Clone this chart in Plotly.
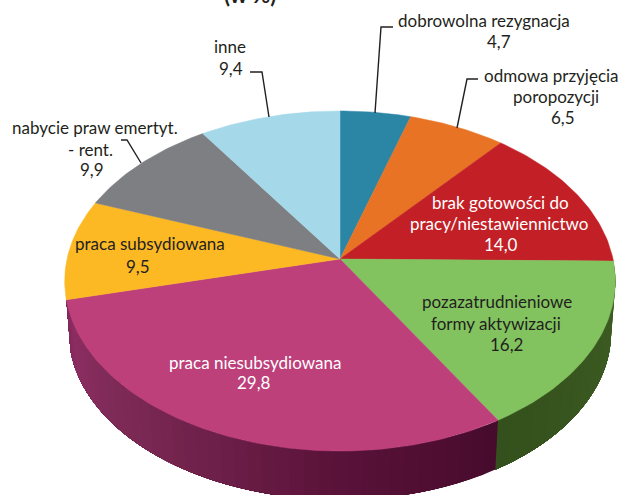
import math
import plotly.graph_objects as go

categories = ["dobrowolna rezygnacja", "odmowa przyjęcia poropozycji",
              "brak gotowości do pracy/niestawiennictwo",
              "pozazatrudnieniowe formy aktywizacji", "praca niesubsydiowana",
              "praca subsydiowana", "nabycie praw emertyt. - rent.", "inne"]
values = [4.7, 6.5, 14.0, 16.2, 29.8, 9.5, 9.9, 9.4]
colors = ["#2b86a6", "#e97325", "#c21f26", "#82c35f", "#bd407a", "#fdb924", "#7e7f83", "#a5d9ea"]

CX, CY, RX, RY, K, DEPTH, BASE_R = 340.0, 259.0, 273.0, 167.2, 0.1294, 52.0, 0.985
FONT = "Lato"
FS = 17
DARK = "#231f20"


def project(theta, r=1.0, dy=0.0):
    X = r * math.sin(theta)
    Y = -r * math.cos(theta)
    w = 1 - K * Y
    return CX + RX * X / w, CY + RY * Y / w + dy


def hexrgb(h):
    return [int(h[i:i + 2], 16) for i in (1, 3, 5)]


def ramp(stops, t):
    for (a, ca), (b, cb) in zip(stops, stops[1:]):
        if t <= b:
            f = (t - a) / (b - a)
            ra, rb = hexrgb(ca), hexrgb(cb)
            return "rgb(%d,%d,%d)" % tuple(round(p + (q - p) * f) for p, q in zip(ra, rb))
    return stops[-1][1]


side_stops = {
    3: [(0, "#3f5f24"), (1, "#34501c")],
    4: [(0, "#470b2d"), (0.29, "#5a1239"), (0.52, "#6e2049"), (0.71, "#7b2a55"), (0.94, "#8c2d62"), (1, "#84285a")],
}

total = sum(values)
edges = [0.0]
for v in values:
    edges.append(edges[-1] + v / total * 2 * math.pi)

fig = go.Figure()

# side wall: each strip runs on to the slice end, so later strips overpaint it without seams
for idx, stops in side_stops.items():
    a, b = edges[idx], edges[idx + 1]
    n = 40
    for i in range(n):
        t0 = a + (b - a) * i / n
        m = 40
        ts = [t0 + (b - t0) * j / m for j in range(m + 1)]
        p = [project(t) for t in ts] + [project(t, r=BASE_R, dy=DEPTH) for t in reversed(ts)]
        p.append(p[0])
        col = ramp(stops, i / (n - 1))
        fig.add_trace(go.Scatter(x=[q[0] for q in p], y=[q[1] for q in p], mode="none",
                                 fill="toself", fillcolor=col,
                                 hoverinfo="skip", showlegend=False))

# top face
for i, (name, col) in enumerate(zip(categories, colors)):
    a, b = edges[i], edges[i + 1]
    n = max(8, int((b - a) * 60))
    pts = [project(a + (b - a) * j / n) for j in range(n + 1)]
    pts = [(CX, CY)] + pts + [(CX, CY)]
    fig.add_trace(go.Scatter(x=[q[0] for q in pts], y=[q[1] for q in pts], mode="lines",
                             fill="toself", fillcolor=col, line=dict(color=col, width=0.5),
                             name=name, hoverinfo="skip", showlegend=False))

# leaders
leaders = [
    [(375, 113), (381, 27), (393, 27)],
    [(457, 128), (467, 79), (478, 79)],
    [(269, 117), (262, 72), (250, 72)],
    [(141, 163), (127, 140), (121, 140)],
]
for ln in leaders:
    fig.add_trace(go.Scatter(x=[q[0] for q in ln], y=[q[1] for q in ln], mode="lines",
                             line=dict(color=DARK, width=1.4), hoverinfo="skip", showlegend=False))

labels = [
    ("dobrowolna rezygnacja", 484, 20, DARK), ("4,7", 499, 41, DARK),
    ("odmowa przyjęcia", 551, 75, DARK), ("poropozycji", 556, 96, DARK), ("6,5", 563, 117, DARK),
    ("inne", 230, 46, DARK), ("9,4", 231, 68, DARK),
    ("nabycie praw emertyt.", 95, 127, DARK), ("- rent.", 90.5, 149, DARK), ("9,9", 92, 169, DARK),
    ("brak gotowości do", 500, 202, "white"), ("pracy/niestawiennictwo", 499, 223, "white"),
    ("14,0", 501, 244, "white"),
    ("praca subsydiowana", 150, 243, DARK), ("9,5", 138, 266, DARK),
    ("pozazatrudnieniowe", 497, 301, DARK), ("formy aktywizacji", 496, 323, DARK), ("16,2", 506, 344, DARK),
    ("praca niesubsydiowana", 255, 362, "white"), ("29,8", 254, 382, "white"),
]
ann = [dict(x=x, y=y, text=t, showarrow=False, xref="x", yref="y", xanchor="center", yanchor="middle",
            font=dict(family=FONT, size=FS, color=c)) for t, x, y, c in labels]
ann.append(dict(x=250, y=10, text="<b>(w %)</b>", showarrow=False, xref="x", yref="y", xanchor="center",
                yanchor="bottom", font=dict(family=FONT, size=22, color=DARK)))

fig.update_layout(width=621, height=495, margin=dict(l=0, r=0, t=0, b=0), autosize=False,
                  paper_bgcolor="white", plot_bgcolor="white", annotations=ann, showlegend=False,
                  xaxis=dict(range=[0, 621], visible=False, fixedrange=True),
                  yaxis=dict(range=[495, 0], visible=False, fixedrange=True))
fig.write_html("out.html", config=dict(displayModeBar=False),
               post_script="document.body.style.margin='0';document.documentElement.style.overflow='hidden';")
